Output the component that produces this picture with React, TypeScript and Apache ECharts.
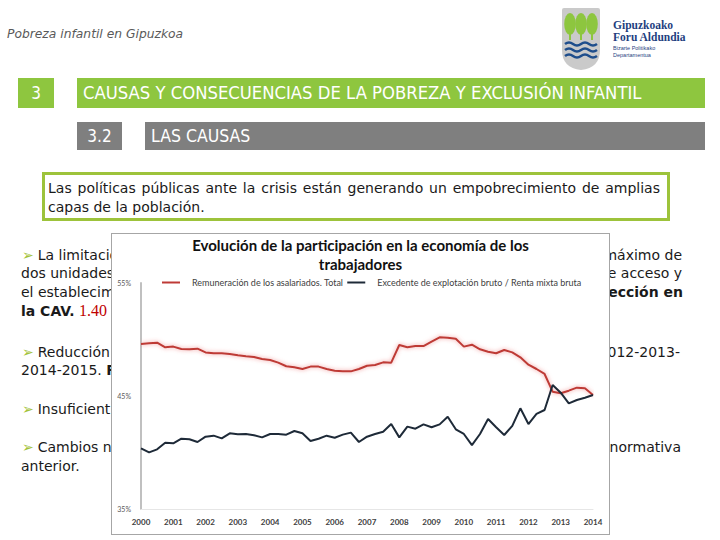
import React, { useEffect, useRef } from "react";
import * as echarts from "echarts";

const years = ["2000", "2001", "2002", "2003", "2004", "2005", "2006", "2007", "2008", "2009", "2010", "2011", "2012", "2013", "2014"];
const quarters = ["T1", "T2", "T3", "T4"];
const quarterLabels: string[] = [];
years.forEach((y, i) => {
  quarters.forEach((q, j) => {
    if (i < years.length - 1 || j === 0) quarterLabels.push(y + " " + q);
  });
});

const remuneracion = [
  49.6, 49.66, 49.72, 49.31, 49.37, 49.16, 49.13, 49.19, 48.86, 48.78,
  48.78, 48.72, 48.6, 48.51, 48.45, 48.27, 48.19, 47.95, 47.63, 47.54,
  47.39, 47.6, 47.6, 47.39, 47.24, 47.18, 47.18, 47.39, 47.68, 47.74,
  47.98, 47.95, 49.51, 49.31, 49.42, 49.42, 49.81, 50.19, 50.16, 50.07,
  49.37, 49.54, 49.13, 48.92, 48.78, 49.07, 48.86, 48.42, 47.77, 47.39,
  46.95, 45.38, 45.24, 45.47, 45.74, 45.68, 45.09,
];
const excedente = [
  40.37, 40.01, 40.28, 40.87, 40.81, 41.22, 41.17, 40.93, 41.4, 41.49,
  41.25, 41.7, 41.61, 41.64, 41.52, 41.34, 41.64, 41.64, 41.58, 41.9,
  41.7, 41.02, 41.22, 41.49, 41.31, 41.58, 41.76, 40.93, 41.4, 41.64,
  41.84, 42.52, 41.34, 42.29, 42.11, 42.49, 42.23, 42.49, 43.17, 42.05,
  41.64, 40.66, 41.64, 42.96, 42.23, 41.55, 42.35, 43.91, 42.52, 43.41,
  43.76, 45.97, 45.29, 44.35, 44.65, 44.85, 45.09,
];
const seriesNames = ["Remuneración de los asalariados. Total", "Excedente de explotación bruto / Renta mixta bruta"];
const chartTitle = "Evolución de la participación en la economía de los\ntrabajadores";

const BODY = "'DejaVu Sans', sans-serif";
const COND = "'DejaVu Sans Condensed', 'DejaVu Sans', sans-serif";
const GREEN = "#8EC63F";
const GRAY = "#7F7F7F";

function Chart() {
  const ref = useRef<HTMLDivElement>(null);
  useEffect(() => {
    if (!ref.current) return;
    const chart = echarts.init(ref.current, null, { renderer: "svg" });
    chart.setOption({
      animation: false,
      backgroundColor: "#fff",
      title: {
        text: chartTitle,
        left: "center",
        top: 1,
        padding: 0,
        textStyle: { fontFamily: "Lato", fontWeight: "bold", fontSize: 15, lineHeight: 19, color: "#111" },
      },
      legend: {
        left: 50,
        top: 44,
        padding: 0,
        itemWidth: 18,
        itemHeight: 2,
        itemGap: 4,
        icon: "rect",
        textStyle: { fontFamily: "Lato", fontSize: 9, color: "#404040", padding: [0, 0, 0, 7] },
        data: seriesNames,
      },
      grid: { left: 29, right: 16, top: 49, bottom: 25 },
      xAxis: {
        type: "category",
        data: quarterLabels,
        boundaryGap: false,
        axisLine: { show: true, lineStyle: { color: "#E6E6E6", width: 1 } },
        axisTick: { show: false },
        axisLabel: {
          interval: 3,
          formatter: (v: string) => v.slice(0, 4),
          fontFamily: "Lato",
          fontWeight: "bold",
          fontSize: 8,
          color: "#404040",
          margin: 9,
        },
        splitLine: { show: false },
      },
      yAxis: {
        type: "value",
        min: 35,
        max: 55,
        interval: 10,
        axisLine: { show: true, lineStyle: { color: "#C0C0C0", width: 2 } },
        axisTick: { show: false },
        axisLabel: { formatter: "{value}%", fontFamily: "Lato", fontSize: 7, color: "#595959", margin: 10 },
        splitLine: { show: false },
      },
      series: [
        {
          name: seriesNames[0],
          type: "line",
          data: remuneracion,
          showSymbol: false,
          color: "#BE3A36",
          lineStyle: { width: 2, color: "#BE3A36", shadowColor: "rgba(235,110,110,0.7)", shadowBlur: 4 },
        },
        {
          name: seriesNames[1],
          type: "line",
          data: excedente,
          showSymbol: false,
          color: "#1E2A38",
          lineStyle: { width: 2, color: "#1E2A38" },
        },
      ],
    });
    return () => chart.dispose();
  }, []);
  return <div ref={ref} style={{ width: 497, height: 300 }} />;
}

function Line({ x, y, children, right, style }: any) {
  const s: any = {
    position: "absolute",
    top: y - 10,
    height: 20,
    lineHeight: "20px",
    fontFamily: BODY,
    fontSize: 14,
    color: "#1A1A1A",
    whiteSpace: "nowrap",
    ...style,
  };
  if (right !== undefined) s.right = 720 - right;
  else s.left = x;
  return <div style={s}>{children}</div>;
}

const bullet = <span style={{ color: "#A3C23A", marginRight: 4 }}>➢</span>;

function Logo() {
  return (
    <>
      <svg width={720} height={80} style={{ position: "absolute", left: 0, top: 0 }}>
        <path d="M562 10 Q562 8 564 8 L598 8 Q600 8 600 10 L600 50 Q600 68 581 70 Q562 68 562 50 Z" fill="#CACACA" />
        {[570, 581, 592].map((cx) => (
          <g key={cx}>
            <rect x={cx - 1} y={26} width={2} height={14} fill="#8DC63F" />
            <ellipse cx={cx} cy={24} rx={5.8} ry={11} fill="#8DC63F" />
          </g>
        ))}
        {[44, 50, 56].map((wy) => (
          <path
            key={wy}
            d={`M565 ${wy} q4 -3 8 0 t8 0 t8 0 t8 0`}
            stroke="#1F4E8C"
            strokeWidth={2.6}
            fill="none"
          />
        ))}
      </svg>
      <div style={{ position: "absolute", left: 613, top: 19, fontFamily: "'Liberation Serif', serif", fontWeight: "bold", fontSize: 11.5, lineHeight: "12px", color: "#1F3F7F" }}>
        Gipuzkoako
        <br />
        Foru Aldundia
      </div>
      <div style={{ position: "absolute", left: 613, top: 45, fontFamily: "'Liberation Sans', sans-serif", fontSize: 5.5, lineHeight: "7px", color: "#1F3F7F" }}>
        Bizarte Politikako
        <br />
        Departamentua
      </div>
    </>
  );
}

export default function App() {
  return (
    <div style={{ position: "absolute", left: 0, top: 0, width: 720, height: 540, overflow: "hidden", background: "#fff" }}>
      <div style={{ position: "absolute", left: 7, top: 27, fontFamily: BODY, fontStyle: "italic", fontSize: 12.3, color: "#595959", fontWeight: 300 }}>
        Pobreza infantil en Gipuzkoa
      </div>
      <Logo />

      <div style={{ position: "absolute", left: 18, top: 78, width: 36, height: 30, background: GREEN, color: "#fff", fontFamily: COND, fontSize: 17, lineHeight: "30px", textAlign: "center", fontWeight: 300 }}>3</div>
      <div style={{ position: "absolute", left: 77, top: 78, width: 628, height: 30, background: GREEN, color: "#fff", fontFamily: COND, fontSize: 18.3, lineHeight: "30px", paddingLeft: 6, boxSizing: "border-box", whiteSpace: "nowrap", fontWeight: 300 }}>
        CAUSAS Y CONSECUENCIAS DE LA POBREZA Y EXCLUSIÓN INFANTIL
      </div>
      <div style={{ position: "absolute", left: 77, top: 122, width: 45, height: 28, background: GRAY, color: "#fff", fontFamily: COND, fontSize: 17, lineHeight: "28px", textAlign: "center", fontWeight: 300 }}>3.2</div>
      <div style={{ position: "absolute", left: 145, top: 122, width: 560, height: 28, background: GRAY, color: "#fff", fontFamily: COND, fontSize: 17.5, lineHeight: "28px", paddingLeft: 6, boxSizing: "border-box", fontWeight: 300 }}>
        LAS CAUSAS
      </div>

      <div style={{ position: "absolute", left: 42, top: 172, width: 628, height: 49, border: "3px solid #9DC33B", boxSizing: "border-box" }} />
      <div style={{ position: "absolute", left: 48, top: 178, width: 612, height: 20, lineHeight: "20px", fontFamily: BODY, fontSize: 14, color: "#1A1A1A", textAlign: "justify", textAlignLast: "justify", whiteSpace: "nowrap" } as any}>
        Las políticas públicas ante la crisis están generando un empobrecimiento de amplias
      </div>
      <div style={{ position: "absolute", left: 48, top: 197, height: 20, lineHeight: "20px", fontFamily: BODY, fontSize: 14, color: "#1A1A1A", whiteSpace: "nowrap" }}>
        capas de la población.
      </div>

      <Line x={22} y={255}>{bullet}La limitació</Line>
      <Line right={682} y={255}>máximo de</Line>
      <Line x={21} y={273}>dos unidades</Line>
      <Line right={682} y={273}>e acceso y</Line>
      <Line x={21} y={292}>el establecim</Line>
      <Line right={683} y={292} style={{ fontWeight: "bold" }}>ección en</Line>
      <Line x={21} y={311}>
        <b>la CAV.</b> <span style={{ color: "#C00000", fontFamily: "'Liberation Serif', serif", fontSize: 16 }}>1.40</span>
      </Line>

      <Line x={22} y={352}>{bullet}Reducción</Line>
      <Line right={680} y={352}>2012-2013-</Line>
      <Line x={21} y={370}>2014-2015. <b>P</b></Line>

      <Line x={22} y={409}>{bullet}Insuficient</Line>

      <Line x={22} y={447}>{bullet}Cambios n</Line>
      <Line right={681} y={447}>normativa</Line>
      <Line x={21} y={466}>anterior.</Line>

      <div style={{ position: "absolute", left: 111, top: 233, width: 499, height: 302, border: "1px solid #A6A6A6", boxSizing: "border-box", background: "#fff" }}>
        <Chart />
      </div>
    </div>
  );
}
